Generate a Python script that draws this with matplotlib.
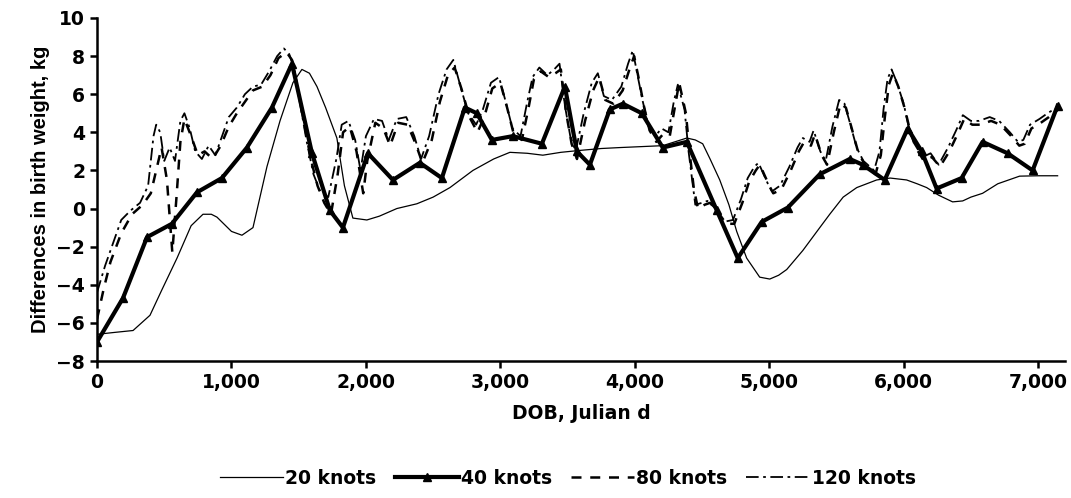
import matplotlib
matplotlib.use("Agg")
import matplotlib.pyplot as plt
from matplotlib.ticker import FuncFormatter

plt.rcParams['font.family'] = ['DejaVu Sans']
plt.rcParams['font.weight'] = 'bold'

# 20 knots (thin solid)
x20 = [0, 130, 268, 394, 480, 595, 700, 788, 850, 892, 1000, 1078, 1160, 1264, 1361, 1457,
       1524, 1580, 1636, 1700, 1784, 1840, 1903, 2007, 2100, 2230, 2379, 2500, 2625, 2796,
       2950, 3071, 3200, 3316, 3450, 3591, 3750, 3889, 4050, 4208, 4320, 4387, 4450, 4505,
       4560, 4632, 4700, 4758, 4832, 4929, 5004, 5070, 5130, 5250, 5376, 5450, 5550, 5651,
       5799, 5900, 6022, 6100, 6171, 6260, 6364, 6439, 6500, 6587, 6700, 6862, 7000, 7145]
y20 = [-6.6, -6.5, -6.4, -5.6, -4.3, -2.6, -0.9, -0.3, -0.3, -0.45, -1.2, -1.4, -1.0, 2.2,
       4.6, 6.6, 7.3, 7.1, 6.4, 5.3, 3.7, 1.2, -0.5, -0.6, -0.4, 0.0, 0.25, 0.6, 1.1, 2.0,
       2.6, 2.95, 2.9, 2.8, 2.95, 3.05, 3.15, 3.2, 3.25, 3.3, 3.55, 3.7, 3.6, 3.4, 2.6, 1.5,
       0.2, -1.2, -2.6, -3.6, -3.7, -3.5, -3.2, -2.2, -1.0, -0.3, 0.6, 1.1, 1.5, 1.6, 1.5,
       1.3, 1.1, 0.7, 0.35, 0.4, 0.6, 0.8, 1.3, 1.7, 1.72, 1.72]

# 40 knots (thick solid with triangles)
x40 = [0, 193, 372, 557, 743, 929, 1115, 1301, 1450, 1599, 1732, 1829, 2015, 2201, 2401,
       2565, 2736, 2825, 2937, 3093, 3309, 3480, 3569, 3666, 3814, 3911, 4052, 4208, 4387,
       4610, 4766, 4944, 5138, 5376, 5599, 5695, 5859, 6030, 6134, 6245, 6431, 6587, 6773,
       6959, 7145]
y40 = [-7.0, -4.7, -1.5, -0.8, 0.85, 1.6, 3.2, 5.3, 7.6, 2.9, -0.1, -1.0, 2.9, 1.5, 2.4,
       1.6, 5.3, 5.0, 3.6, 3.8, 3.4, 6.4, 3.0, 2.3, 5.2, 5.5, 5.0, 3.2, 3.5, -0.1, -2.6,
       -0.7, 0.05, 1.8, 2.6, 2.3, 1.5, 4.2, 3.0, 1.05, 1.6, 3.5, 2.9, 2.0, 5.4]

# 80 knots (dashed)
x80 = [0, 50, 100, 180, 260, 340, 400, 440, 480, 520, 560, 590, 620, 650, 700, 750, 800,
       860, 920, 980, 1040, 1100, 1160, 1230, 1290, 1350, 1410, 1450, 1490, 1540, 1590,
       1640, 1690, 1740, 1790, 1830, 1880, 1930, 1980, 2010, 2070, 2130, 2180, 2240, 2310,
       2370, 2420, 2490, 2550, 2610, 2660, 2710, 2770, 2830, 2880, 2940, 3000, 3050, 3100,
       3160, 3210, 3250, 3300, 3360, 3410, 3450, 3490, 3530, 3570, 3630, 3690, 3735, 3780,
       3840, 3910, 3960, 3995, 4030, 4070, 4110, 4160, 4210, 4260, 4300, 4330, 4380, 4410,
       4440, 4470, 4520, 4560, 4620, 4680, 4740, 4800, 4850, 4900, 4930, 5000, 5030, 5090,
       5160, 5220, 5260, 5310, 5340, 5390, 5430, 5480, 5530, 5570, 5610, 5660, 5710, 5790,
       5830, 5860, 5890, 5920, 5960, 6010, 6050, 6090, 6150, 6210, 6270, 6340, 6400, 6450,
       6510, 6570, 6650, 6720, 6800, 6860, 6900, 6950, 7020, 7080, 7150]
y80 = [-5.8, -4.2, -2.8, -1.3, -0.3, 0.2, 0.8, 2.0, 3.2, 1.5, -2.3, 0.5, 3.5, 4.7, 3.8,
       2.8, 3.0, 2.6, 3.3, 4.3, 5.0, 5.6, 6.2, 6.4, 7.0, 7.9, 8.2, 7.8, 6.4, 4.5, 2.6, 1.2,
       0.3, -0.3, 1.8, 4.0, 4.3, 3.0, 0.8, 2.5, 4.5, 4.2, 3.3, 4.5, 4.4, 3.4, 2.4, 3.6, 5.6,
       7.0, 7.4, 6.3, 4.8, 4.0, 4.8, 6.3, 6.6, 5.3, 3.9, 3.6, 5.3, 6.8, 7.2, 6.9, 7.1, 7.3,
       5.0, 3.4, 2.6, 4.6, 6.2, 6.9, 5.7, 5.5, 6.2, 7.3, 8.0, 6.8, 5.3, 4.1, 3.5, 3.9, 3.8,
       5.4, 6.6, 5.0, 2.8, 1.0, 0.0, 0.2, 0.3, -0.2, -0.8, -0.8, 0.3, 1.4, 2.0, 2.3, 1.2,
       0.8, 1.0, 2.0, 3.0, 3.5, 3.3, 3.9, 2.8, 2.3, 4.0, 5.5, 5.3, 4.3, 3.0, 2.3, 1.8, 2.8,
       4.8, 6.5, 7.1, 6.4, 5.2, 4.0, 3.2, 2.5, 2.7, 2.2, 3.0, 3.9, 4.7, 4.4, 4.4, 4.6, 4.4,
       3.8, 3.3, 3.4, 4.2, 4.5, 4.8, 5.2]

# 120 knots (dash-dot)
x120 = [0, 60, 120, 180, 250, 320, 380, 420, 440, 470, 500, 540, 580, 620, 650, 690, 730,
        780, 830, 880, 930, 980, 1040, 1100, 1160, 1220, 1280, 1340, 1390, 1430, 1470, 1510,
        1560, 1610, 1660, 1720, 1780, 1820, 1870, 1920, 1960, 2000, 2060, 2120, 2170, 2230,
        2300, 2360, 2410, 2470, 2540, 2600, 2650, 2700, 2760, 2820, 2870, 2930, 2990, 3040,
        3090, 3150, 3200, 3240, 3290, 3350, 3400, 3440, 3480, 3520, 3560, 3620, 3680, 3725,
        3770, 3830, 3900, 3950, 3985, 4020, 4060, 4100, 4150, 4200, 4250, 4290, 4320, 4370,
        4400, 4430, 4450, 4500, 4540, 4600, 4660, 4730, 4790, 4840, 4890, 4920, 4990, 5020,
        5080, 5150, 5210, 5250, 5300, 5330, 5380, 5420, 5470, 5520, 5560, 5600, 5650, 5700,
        5780, 5820, 5850, 5880, 5910, 5950, 6000, 6040, 6080, 6140, 6200, 6260, 6330, 6390,
        6440, 6500, 6560, 6640, 6710, 6790, 6850, 6890, 6940, 7010, 7070, 7140]
y120 = [-4.4, -3.0, -1.8, -0.6, -0.1, 0.3, 1.2, 3.8, 4.4, 4.0, 2.5, 3.2, 2.5, 4.6, 5.0, 4.2,
        3.0, 2.6, 3.3, 2.8, 3.8, 4.8, 5.3, 6.0, 6.4, 6.5, 7.2, 8.0, 8.4, 8.1, 7.2, 5.5, 3.5,
        1.8, 0.9, 0.6, 2.6, 4.4, 4.6, 3.6, 2.0, 3.8, 4.7, 4.6, 3.6, 4.7, 4.8, 3.8, 2.6, 3.8,
        6.0, 7.3, 7.8, 6.5, 5.0, 4.4, 5.2, 6.6, 6.9, 5.6, 4.2, 3.8, 5.6, 6.9, 7.4, 7.0, 7.3,
        7.6, 5.4, 3.8, 3.0, 5.0, 6.6, 7.1, 5.9, 5.7, 6.4, 7.6, 8.3, 7.0, 5.6, 4.4, 3.8, 4.2,
        4.0, 5.6, 6.5, 5.2, 3.0, 1.3, 0.2, 0.3, 0.4, 0.0, -0.7, -0.6, 0.5, 1.6, 2.2, 2.4,
        1.3, 0.9, 1.2, 2.2, 3.2, 3.7, 3.5, 4.1, 3.0, 2.5, 4.3, 5.7, 5.5, 4.5, 3.2, 2.5, 2.0,
        3.0, 5.2, 6.8, 7.3, 6.6, 5.5, 4.2, 3.4, 2.7, 2.9, 2.3, 3.2, 4.1, 4.9, 4.6, 4.6, 4.8,
        4.6, 4.0, 3.5, 3.6, 4.4, 4.7, 5.0, 5.3]

fig = plt.figure(figsize=(10.71, 4.98), dpi=100)
ax = fig.add_axes([0.0906, 0.2751, 0.9038, 0.6888])

ax.plot(x20, y20, color='black', lw=0.9, label='20 knots')
ax.plot(x40, y40, color='black', lw=3.0, marker='^', ms=5.5, label='40 knots')
ax.plot(x80, y80, color='black', lw=1.8, linestyle=(0, (4, 3.5)), label='80 knots')
ax.plot(x120, y120, color='black', lw=1.3, linestyle=(0, (7, 2.5, 1.5, 2.5)), label='120 knots')

ax.set_xlim(0, 7200)
ax.set_ylim(-8, 10)
ax.set_xticks(range(0, 7001, 1000))
ax.set_yticks(range(-8, 11, 2))
ax.xaxis.set_major_formatter(FuncFormatter(lambda v, p: '{:,.0f}'.format(v)))

for s in ['top', 'right']:
    ax.spines[s].set_visible(False)
for s in ['left', 'bottom']:
    ax.spines[s].set_linewidth(1.8)
ax.tick_params(direction='out', length=5, width=1.8, labelsize=13.5)
for lab in ax.get_xticklabels() + ax.get_yticklabels():
    lab.set_fontweight('bold')

ax.set_xlabel('DOB, Julian d', fontsize=13.5, fontweight='bold', labelpad=9)
ax.set_ylabel('Differences in birth weight, kg', fontsize=14.5, fontweight='bold',
              family='Liberation Sans', labelpad=5)

fig.legend(loc='center', bbox_to_anchor=(0.53, 0.04), ncol=4, frameon=False,
           handlelength=3.4, columnspacing=1.0, handletextpad=0.1,
           prop={'weight': 'bold', 'size': 13.5})

fig.savefig('out.png', dpi=100)
